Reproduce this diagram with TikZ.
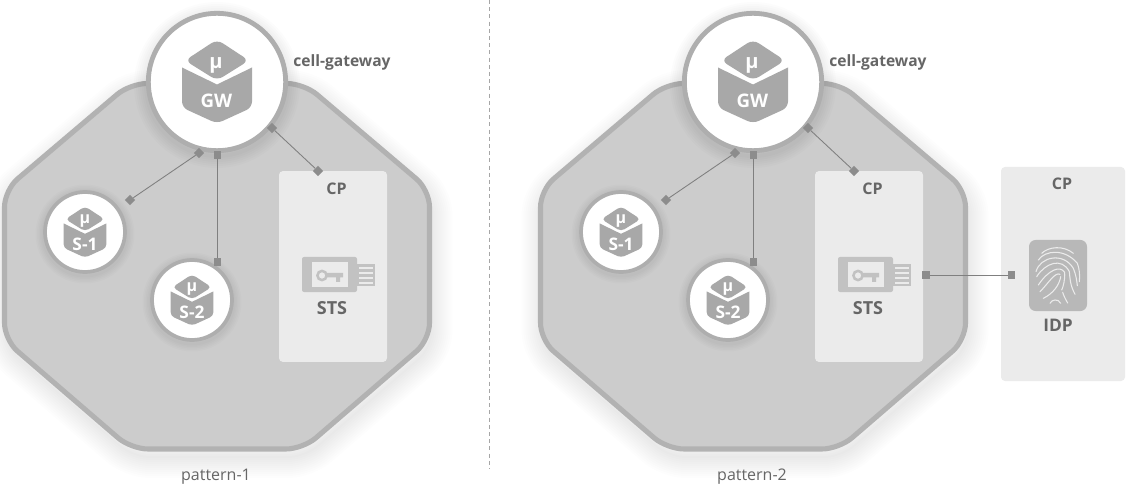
\documentclass[tikz,border=0pt]{standalone}
\usepackage{fontspec}
\setmainfont{Open Sans}
\usetikzlibrary{shapes.geometric}
\definecolor{octfill}{HTML}{CCCCCC}
\definecolor{octedge}{HTML}{B2B2B2}
\definecolor{boxfill}{HTML}{EBEBEB}
\definecolor{ringc}{HTML}{AEAEAE}
\definecolor{iconc}{HTML}{A8A8A8}
\definecolor{stsc}{HTML}{C2C2C2}
\definecolor{tilec}{HTML}{B8B8B8}
\definecolor{linec}{HTML}{7F7F7F}
\definecolor{txtc}{HTML}{666666}
\tikzset{
  octshape/.style={fill=octfill,draw=octedge,line width=3.8pt,rounded corners=12.75pt,line join=round},
  cpbox/.style={fill=boxfill,rounded corners=3pt},
  bigring/.style={circle,fill=white,draw=ringc,line width=3.6pt,inner sep=0pt,minimum size=#1},
  lbl/.style={text=txtc,font=\bfseries,inner sep=0pt},
  icontext/.style={text=white,font=\bfseries,inner sep=0pt},
  dmd/.style={diamond,fill=linec!90!white,inner sep=0pt,minimum size=8pt},
  sqr/.style={rectangle,fill=linec!90!white,inner sep=0pt,minimum size=5.6pt},
  conn/.style={draw=linec,line width=0.65pt},
  print/.style={draw=boxfill,line width=0.8pt,line cap=round},
}
% cube icon centred on #1,#2 scaled by #3
\newcommand{\cubeicon}[3]{%
  \begin{scope}[shift={(#1,#2)},x=#3*0.75pt,y=-#3*0.75pt]
    \fill[iconc,rounded corners=#3*5pt] (0,-42) -- (32,-21) -- (0,-1) -- (-32,-21) -- cycle;
    \fill[iconc] (0,3) -- (35,-14) [rounded corners=#3*4.5pt] -- (35,26) -- (0,42) -- (-35,26) [sharp corners] -- (-35,-14) -- cycle;
  \end{scope}}
\newcommand{\softshadow}[1]{%
  \foreach \w in {2,6,...,42}{\draw[black,opacity=0.009,line width=\w*0.75pt,line join=round] #1;}}
\newcommand{\patternbody}{%
  \softshadow{[rounded corners=12.75pt] (132,91) -- (306,91) -- (431.5,198) -- (431.5,348) -- (305,457) -- (133,457) -- (6.5,348) -- (6.5,198) -- cycle}
  \draw[octshape] (130,83.5) -- (304,83.5) -- (429.5,190) -- (429.5,340) -- (303,449) -- (131,449) -- (4.5,340) -- (4.5,190) -- cycle;
  \node[cpbox,fill=boxfill,minimum width=81pt,minimum height=143.2pt,inner sep=0pt] (cpb) at (333,266.5) {};
  \node[lbl,font=\bfseries\fontsize{12pt}{14pt}\selectfont] (cpl) at (336.5,188.5) {CP};
  % STS
  \fill[stsc,rounded corners=1.5pt] (302,257) rectangle (357,292);
  \fill[boxfill] (312,262.5) rectangle (348,287);
  \fill[stsc] (357,264) rectangle (374.5,286);
  \foreach \yy in {268,273,278,283}{\draw[boxfill,line width=1.1pt] (359,\yy) -- (373,\yy);}
  \draw[stsc,line width=1.9pt] (322,275.5) circle[radius=4.6];
  \fill[stsc] (326,273) -- (343,273) -- (343,277.5) -- (340,277.5) -- (340,282) -- (336,282) -- (336,277.5) -- (326,277.5) -- cycle;
  \node[lbl,font=\bfseries\fontsize{13.5pt}{15pt}\selectfont] (stsl) at (332,308.5) {STS};
  % gateway
  \foreach \w in {4,8,...,24}{\draw[black,opacity=0.012,line width=\w*0.75pt] (217,85) circle[radius=71];}
  \node[bigring=103pt] (gw) at (217,82) {};
  \cubeicon{217}{81.5}{1}
  \node[icontext,font=\bfseries\fontsize{15pt}{16pt}\selectfont] (mug) at (216,65) {µ};
  \node[icontext,font=\bfseries\fontsize{14pt}{16pt}\selectfont] (gwl) at (216.5,101) {GW};
  \node[lbl,anchor=west,font=\bfseries\fontsize{11.7pt}{13pt}\selectfont] (cgl) at (293,62) {cell-gateway};
  % services
  \foreach \w in {3,6,...,15}{\draw[black,opacity=0.012,line width=\w*0.75pt] (85,234) circle[radius=42];\draw[black,opacity=0.012,line width=\w*0.75pt] (192,302) circle[radius=42];}
  \node[bigring=60pt,line width=2.8pt] (s1) at (85,232) {};
  \cubeicon{85}{232}{0.61}
  \node[icontext,font=\bfseries\fontsize{12pt}{13pt}\selectfont] (mu1) at (85,221) {µ};
  \node[icontext,font=\bfseries\fontsize{13pt}{14pt}\selectfont] (sl1) at (85,244) {S-1};
  \node[bigring=60pt,line width=2.8pt] (s2) at (192,300) {};
  \cubeicon{192}{300}{0.61}
  \node[icontext,font=\bfseries\fontsize{12pt}{13pt}\selectfont] (mu2) at (192,289) {µ};
  \node[icontext,font=\bfseries\fontsize{13pt}{14pt}\selectfont] (sl2) at (192,312) {S-2};
  % connector ends
  \node[dmd] (a1) at (199,153) {};
  \node[dmd] (a2) at (130,200) {};
  \node[sqr] (b1) at (217.5,155) {};
  \node[sqr] (b2) at (217.5,262) {};
  \node[dmd] (c1) at (272,128) {};
  \node[dmd] (c2) at (318,171) {};
  \draw[conn] (a1) -- (a2);
  \draw[conn] (b1) -- (b2);
  \draw[conn] (c1) -- (c2);
}
\begin{document}
\begin{tikzpicture}[x=0.75pt,y=-0.75pt]
\useasboundingbox (0,0) rectangle (1126,491);
\fill[white] (0,0) rectangle (1126,491);
\begin{scope}[name prefix=l-]
  \patternbody
\end{scope}
\begin{scope}[xshift=402pt,name prefix=r-]
  \patternbody
\end{scope}
\node[text=txtc,font=\fontsize{12pt}{14pt}\selectfont,inner sep=0pt] (p1) at (216,477) {pattern-1};
\node[text=txtc,font=\fontsize{12pt}{14pt}\selectfont,inner sep=0pt] (p2) at (752,477) {pattern-2};
\coordinate (dt) at (489.5,0);
\coordinate (db) at (489.5,469);
\draw[draw=gray!70,line width=0.6pt,dash pattern=on 3pt off 2.4pt] (dt) -- (db);
% IDP
\node[cpbox,minimum width=93pt,minimum height=160.5pt,inner sep=0pt] (cpo) at (1063,274) {};
\node[lbl,font=\bfseries\fontsize{12pt}{14pt}\selectfont] (cpol) at (1062,184) {CP};
\node[rectangle,rounded corners=5pt,fill=tilec,minimum width=43.5pt,minimum height=53.3pt,inner sep=0pt] (idp) at (1058,275.5) {};
\begin{scope}[shift={(1020,235)},x=0.25pt,y=-0.25pt]
  \draw[print] (65,55) .. controls (85,35) and (130,30) .. (160,55);
  \draw[print] (55,75) .. controls (75,45) and (135,40) .. (172,85) .. controls (178,100) and (180,120) .. (178,140);
  \draw[print] (48,110) .. controls (60,65) and (130,50) .. (160,100) .. controls (168,120) and (170,135) .. (172,152);
  \draw[print] (50,125) .. controls (75,85) and (125,65) .. (148,110) .. controls (150,130) and (150,150) .. (165,178);
  \draw[print] (55,150) .. controls (85,105) and (120,90) .. (134,112) .. controls (135,135) and (130,155) .. (125,165);
  \draw[print] (60,170) .. controls (85,145) and (105,110) .. (120,118);
  \draw[print] (70,190) .. controls (100,175) and (118,150) .. (122,125);
  \draw[print] (90,205) .. controls (95,193) and (115,190) .. (122,205);
  \draw[print] (128,172) .. controls (132,185) and (138,195) .. (143,204);
\end{scope}
\node[lbl,font=\bfseries\fontsize{13pt}{15pt}\selectfont] (idpl) at (1058,325.5) {IDP};
\node[sqr] (e1) at (926,275) {};
\node[sqr] (e2) at (1011.5,275) {};
\draw[conn] (e1) -- (e2);
\end{tikzpicture}
\end{document}
